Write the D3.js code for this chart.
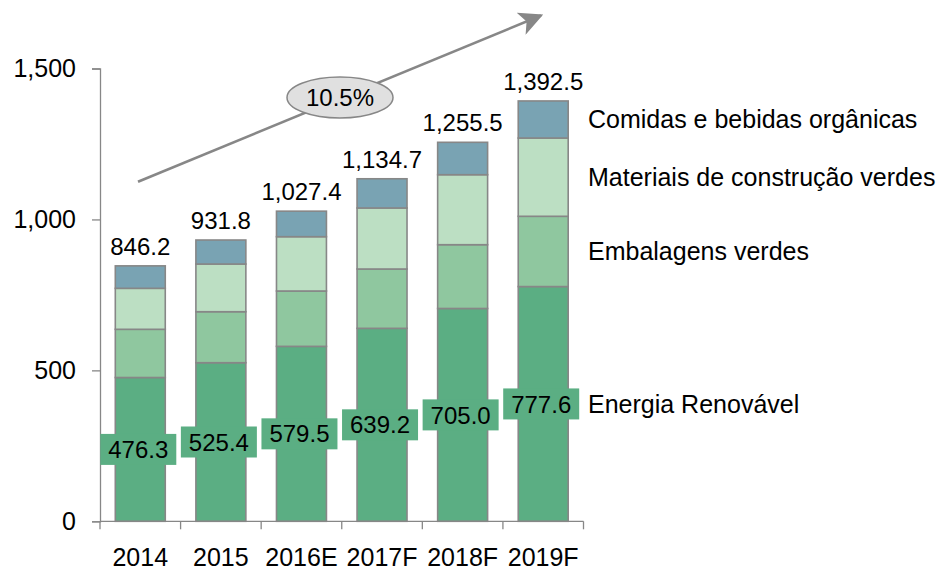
<!DOCTYPE html>
<html>
<head>
<meta charset="utf-8">
<script src="https://cdn.jsdelivr.net/npm/d3@7"></script>
<style>
  html, body { margin: 0; padding: 0; background: #fff; }
  svg text { font-family: "Liberation Sans", Arial, sans-serif; fill: #000; }
</style>
</head>
<body>
<svg id="chart" width="951" height="572"></svg>
<script>
// Market size by segment, stacked per year
const years = ["2014", "2015", "2016E", "2017F", "2018F", "2019F"];
const seriesNames = ["Energia Renovável", "Embalagens verdes", "Materiais de construção verdes", "Comidas e bebidas orgânicas"];
const energia    = [476.3, 525.4, 579.5, 639.2, 705.0, 777.6];
const embalagens = [159.7, 168.9, 183.4, 196.6, 211.3, 232.8];
const materiais  = [135.8, 158.0, 179.9, 202.1, 231.9, 259.3];
const comidas    = [74.4, 79.5, 84.6, 96.8, 107.3, 122.8];
const totals     = [846.2, 931.8, 1027.4, 1134.7, 1255.5, 1392.5];
const yTicks     = [0, 500, 1000, 1500];
const cagrLabel  = "10.5%";

const colors = ["#5bae83", "#8fc79f", "#bcdfc3", "#79a3b3"];
const axisColor = "#878787";
const bigFont = 25;
const valueFont = 24;

const rows = years.map((y, i) => ({
  year: y,
  [seriesNames[0]]: energia[i],
  [seriesNames[1]]: embalagens[i],
  [seriesNames[2]]: materiais[i],
  [seriesNames[3]]: comidas[i],
  total: totals[i]
}));

const svg = d3.select("#chart");

const x = d3.scaleBand().domain(years).range([100, 583.5]).paddingInner(0.38).paddingOuter(0.19);
const y = d3.scaleLinear().domain([0, 1500]).range([521.3, 68.5]);

const stacked = d3.stack().keys(seriesNames)(rows);

// Stacked bars
const layers = svg.append("g").selectAll("g")
  .data(stacked).join("g")
  .attr("fill", (d, i) => colors[i]);

layers.selectAll("rect")
  .data(d => d).join("rect")
  .attr("x", d => x(d.data.year))
  .attr("width", x.bandwidth())
  .attr("y", d => y(d[1]))
  .attr("height", d => y(d[0]) - y(d[1]))
  .attr("stroke", axisColor)
  .attr("stroke-width", 1.6);

// Y axis
const yAxis = svg.append("g").attr("transform", "translate(100,0)")
  .call(d3.axisLeft(y).tickValues(yTicks).tickFormat(d3.format(",")).tickSize(8).tickPadding(16));
yAxis.select(".domain").attr("stroke", axisColor).attr("stroke-width", 1.3);
yAxis.selectAll(".tick line").attr("stroke", axisColor).attr("stroke-width", 1.3);
yAxis.selectAll(".tick text").attr("font-size", bigFont).attr("font-family", null).attr("fill", "#000");

// X axis with tick marks between categories
const xAxisG = svg.append("g").attr("transform", `translate(0,${y(0)})`);
xAxisG.append("line")
  .attr("x1", x.range()[0]).attr("x2", x.range()[1])
  .attr("stroke", axisColor).attr("stroke-width", 1.3);
const edges = years.map(d => x(d) - x.step() * x.paddingInner() / 2).concat([x.range()[1]]);
xAxisG.selectAll("line.tk").data(edges).join("line")
  .attr("class", "tk")
  .attr("x1", d => d).attr("x2", d => d)
  .attr("y1", 0).attr("y2", 8)
  .attr("stroke", axisColor).attr("stroke-width", 1.3);
xAxisG.selectAll("text").data(years).join("text")
  .attr("x", d => x(d) + x.bandwidth() / 2)
  .attr("y", 45)
  .attr("text-anchor", "middle")
  .attr("font-size", bigFont)
  .text(d => d);

// Totals above bars
svg.append("g").selectAll("text")
  .data(rows).join("text")
  .attr("x", d => x(d.year) + x.bandwidth() / 2)
  .attr("y", d => y(d.total) - 11)
  .attr("text-anchor", "middle")
  .attr("font-size", valueFont)
  .text(d => d3.format(",.1f")(d.total));

// Energia value labels on boxes at the middle of the bottom segment
const valG = svg.append("g").selectAll("g")
  .data(rows).join("g")
  .attr("transform", d => `translate(${x(d.year) + x.bandwidth() / 2 - 2},${y(d[seriesNames[0]] / 2)})`);
valG.append("rect")
  .attr("x", -38).attr("y", -15.5)
  .attr("width", 76).attr("height", 31)
  .attr("fill", colors[0]);
valG.append("text")
  .attr("text-anchor", "middle")
  .attr("dy", "0.36em")
  .attr("font-size", valueFont)
  .text(d => d3.format(".1f")(d[seriesNames[0]]));

// Series names beside the last bar, at each segment's middle
const last = years.length - 1;
svg.append("g").selectAll("text")
  .data(stacked).join("text")
  .attr("x", 588)
  .attr("y", d => y((d[last][0] + d[last][1]) / 2))
  .attr("dy", "0.36em")
  .attr("font-size", bigFont)
  .text(d => d.key);

// Growth arrow with CAGR bubble
const defs = svg.append("defs");
defs.append("marker")
  .attr("id", "arrowhead")
  .attr("viewBox", "0 0 10 10")
  .attr("refX", 9).attr("refY", 5)
  .attr("markerUnits", "userSpaceOnUse")
  .attr("markerWidth", 24).attr("markerHeight", 24)
  .attr("orient", "auto")
  .append("path")
  .attr("d", "M0,0 L10,5 L0,10 L2.5,5 Z")
  .attr("fill", axisColor);

svg.append("line")
  .attr("x1", 138).attr("y1", 181.7)
  .attr("x2", 541).attr("y2", 15.5)
  .attr("stroke", axisColor)
  .attr("stroke-width", 2.6)
  .attr("marker-end", "url(#arrowhead)");

svg.append("ellipse")
  .attr("cx", 340).attr("cy", 97.5)
  .attr("rx", 53).attr("ry", 20.5)
  .attr("fill", "#e0e0e0")
  .attr("stroke", axisColor)
  .attr("stroke-width", 1.5);
svg.append("text")
  .attr("x", 340).attr("y", 97.5)
  .attr("dy", "0.36em")
  .attr("text-anchor", "middle")
  .attr("font-size", valueFont)
  .text(cagrLabel);
</script>
</body>
</html>
